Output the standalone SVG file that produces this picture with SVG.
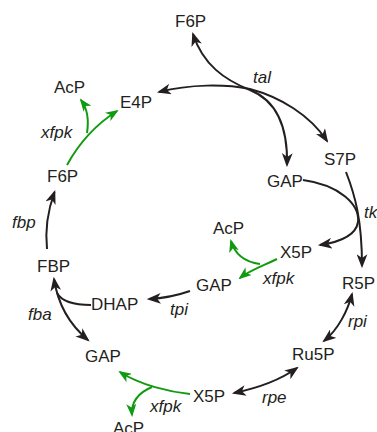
<svg xmlns="http://www.w3.org/2000/svg" width="377" height="432" viewBox="0 0 377 432">
<style>
text{font-family:"Liberation Sans",Arial,sans-serif;font-size:17px;fill:#231f20}
.e{font-style:italic}
.k{fill:none;stroke:#231f20;stroke-width:2}
.g{fill:none;stroke:#109a10;stroke-width:2}
</style>
<defs>
<marker id="ak" viewBox="0 0 13 10" markerWidth="14" markerHeight="11" refX="11" refY="5" markerUnits="userSpaceOnUse" orient="auto-start-reverse"><path d="M0,0 L13,5 L0,10 L3.5,5 Z" fill="#231f20"/></marker>
<marker id="ag" viewBox="0 0 13 10" markerWidth="13" markerHeight="10" refX="11" refY="5" markerUnits="userSpaceOnUse" orient="auto-start-reverse"><path d="M0,0 L13,5 L0,10 L3.5,5 Z" fill="#109a10"/></marker>
</defs>
<g id="connectors">
<path class="k" d="M193,34 C203,65 225,80 250,90 C275,100 288,125 287,165" marker-start="url(#ak)" marker-end="url(#ak)"/>
<path class="k" d="M159,92 C190,84 225,84 250,89 C280,97 310,115 327,141" marker-start="url(#ak)" marker-end="url(#ak)"/>
<path class="g" d="M67,165 C78,145 95,125 117,111" marker-end="url(#ag)"/>
<path class="g" d="M87,133 C89,120 87,108 81,100" marker-end="url(#ag)"/>
<path class="k" d="M47,249 C45,230 48,210 54.5,192" marker-end="url(#ak)"/>
<path class="k" d="M54,279 C58,305 70,325 88,340" marker-start="url(#ak)" marker-end="url(#ak)"/>
<path class="k" d="M91,305 C75,305 62,302 57,293"/>
<path class="k" d="M190,291 Q170,298 149,299" marker-end="url(#ak)"/>
<path class="g" d="M277,259 C265,265 250,270 240,278" marker-end="url(#ag)"/>
<path class="g" d="M260,264 C245,262 235,255 231,241" marker-end="url(#ag)"/>
<path class="k" d="M303,180 C340,185 360,205 358,222 C356,235 340,242 320,245" marker-end="url(#ak)"/>
<path class="k" d="M346,172 C355,195 362,220 362,266" marker-end="url(#ak)"/>
<path class="k" d="M352,294 C348,310 338,330 324,341" marker-start="url(#ak)" marker-end="url(#ak)"/>
<path class="k" d="M297,368 C280,380 258,388 234,393" marker-start="url(#ak)" marker-end="url(#ak)"/>
<path class="g" d="M190,394 C170,392 140,385 120,372" marker-end="url(#ag)"/>
<path class="g" d="M152,387 C140,392 131,400 132,415" marker-end="url(#ag)"/>
</g>
<g id="F6P_top"><text x="175" y="27">F6P</text></g>
<g id="AcP_1"><text x="54" y="93">AcP</text></g>
<g id="E4P"><text x="120" y="108">E4P</text></g>
<g id="S7P"><text x="324" y="165">S7P</text></g>
<g id="GAP_1"><text x="267" y="187">GAP</text></g>
<g id="F6P_left"><text x="47" y="182">F6P</text></g>
<g id="AcP_2"><text x="213" y="234">AcP</text></g>
<g id="X5P_1"><text x="280" y="258">X5P</text></g>
<g id="GAP_2"><text x="196" y="291">GAP</text></g>
<g id="R5P"><text x="342" y="289">R5P</text></g>
<g id="FBP"><text x="37" y="272">FBP</text></g>
<g id="DHAP"><text x="91" y="310">DHAP</text></g>
<g id="Ru5P"><text x="292" y="360">Ru5P</text></g>
<g id="GAP_3"><text x="85" y="362">GAP</text></g>
<g id="X5P_2"><text x="193" y="402">X5P</text></g>
<g id="AcP_3"><text x="113" y="434">AcP</text></g>
<g id="enzymes">
<text class="e" x="253" y="83">tal</text>
<text class="e" x="41" y="138">xfpk</text>
<text class="e" x="12" y="228">fbp</text>
<text class="e" x="364" y="218">tk</text>
<text class="e" x="263" y="284">xfpk</text>
<text class="e" x="170" y="315">tpi</text>
<text class="e" x="28" y="320">fba</text>
<text class="e" x="348" y="327">rpi</text>
<text class="e" x="262" y="403">rpe</text>
<text class="e" x="150" y="412">xfpk</text>
</g>
</svg>
